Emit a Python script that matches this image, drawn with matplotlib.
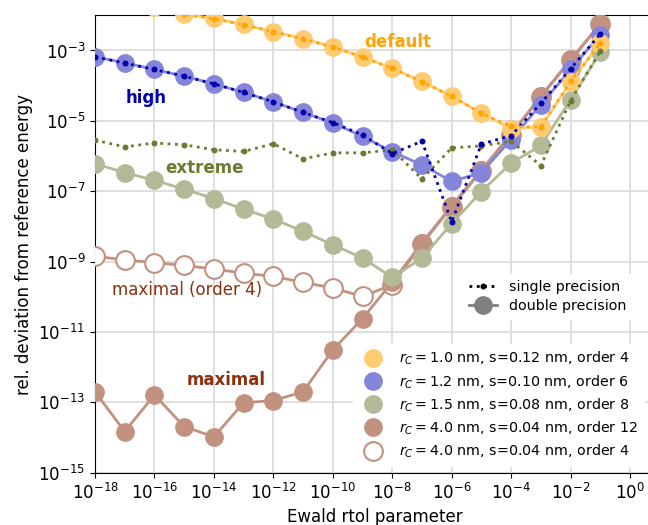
import numpy as np
import matplotlib
matplotlib.use("Agg")
import matplotlib.pyplot as plt
from matplotlib.lines import Line2D
from matplotlib.ticker import FixedLocator, NullLocator

# data (log10 of the values)
rtol_exp = [-18, -17, -16, -15, -14, -13, -12, -11, -10, -9, -8, -7, -6, -5, -4, -3, -2, -1]

default_dbl = [-1.35, -1.55, -1.75, -1.97, -2.09, -2.26, -2.47, -2.66, -2.90, -3.18,
               -3.51, -3.88, -4.30, -4.78, -5.22, -5.17, -3.90, -2.78]
default_sgl = [-1.35, -1.55, -1.75, -1.97, -2.10, -2.27, -2.47, -2.67, -2.90, -3.19,
               -3.51, -3.89, -4.30, -4.79, -5.16, -5.17, -3.88, -2.80]
high_dbl = [-3.18, -3.35, -3.54, -3.73, -3.95, -4.19, -4.46, -4.76, -5.06, -5.44,
            -5.88, -6.25, -6.72, -6.47, -5.53, -4.54, -3.54, -2.55]
high_sgl = [-3.18, -3.36, -3.54, -3.73, -3.95, -4.19, -4.46, -4.76, -5.05, -5.40,
            -5.93, -5.58, -7.87, -5.66, -5.42, -4.50, -3.52, -2.53]
extreme_dbl = [-6.22, -6.47, -6.69, -6.94, -7.21, -7.51, -7.79, -8.14, -8.52, -8.90,
               -9.45, -8.90, -7.92, -7.01, -6.20, -5.70, -4.40, -3.05]
extreme_sgl = [-5.55, -5.74, -5.63, -5.68, -5.82, -5.87, -5.65, -6.08, -5.91, -5.91,
               -5.82, -6.65, -5.77, -5.71, -5.58, -6.27, -4.43, -3.02]
maximal_dbl = [-12.70, -13.83, -12.79, -13.69, -13.98, -13.01, -12.95, -12.70, -11.51, -10.62,
               -9.58, -8.47, -7.41, -6.40, -5.37, -4.30, -3.26, -2.24]
maximal4_dbl = [-8.85, -8.95, -9.03, -9.11, -9.21, -9.33, -9.42, -9.59, -9.75, -9.99,
                -9.66, -8.50, -7.44, -6.42, -5.39, -4.32, -3.28, -2.26]

legend_labels = [r"$r_C = 1.0$ nm, s=0.12 nm, order 4",
                 r"$r_C = 1.2$ nm, s=0.10 nm, order 6",
                 r"$r_C = 1.5$ nm, s=0.08 nm, order 8",
                 r"$r_C = 4.0$ nm, s=0.04 nm, order 12",
                 r"$r_C = 4.0$ nm, s=0.04 nm, order 4"]

x = 10.0 ** np.array(rtol_exp)

# colours
c_def, c_def_l = "#ffa500", "#ffca70"
c_high, c_high_l = "#0000aa", "#8484da"
c_ext, c_ext_l = "#6b7b2f", "#b4ba98"
c_max, c_max_l = "#8b2f0f", "#c2917f"

fig = plt.figure(figsize=(6.48, 5.25), dpi=100)
ax = fig.add_axes([95 / 648, 52.3 / 525, (653.8 - 95) / 648, 457.4 / 525])

ms_d, ms_s = 13.5, 4.3
ax.plot(x, 10.0 ** np.array(maximal4_dbl), "-o", color=c_max_l, lw=2, ms=ms_d,
        mfc="white", mec=c_max_l, mew=1.5, zorder=3)
ax.plot(x, 10.0 ** np.array(maximal_dbl), "-o", color=c_max_l, lw=2, ms=ms_d, mew=0, zorder=3)
ax.plot(x, 10.0 ** np.array(extreme_dbl), "-o", color=c_ext_l, lw=2, ms=ms_d, mew=0, zorder=3)
ax.plot(x, 10.0 ** np.array(high_dbl), "-o", color=c_high_l, lw=2, ms=ms_d, mew=0, zorder=3)
ax.plot(x, 10.0 ** np.array(default_dbl), "-o", color=c_def_l, lw=2, ms=ms_d, mew=0, zorder=3)

ax.plot(x, 10.0 ** np.array(extreme_sgl), ":o", color=c_ext, lw=2, ms=ms_s, mew=0, zorder=4)
ax.plot(x, 10.0 ** np.array(high_sgl), ":o", color=c_high, lw=2, ms=ms_s, mew=0, zorder=4)
ax.plot(x, 10.0 ** np.array(default_sgl), ":o", color=c_def, lw=2, ms=ms_s, mew=0, zorder=4)

ax.set_xscale("log")
ax.set_yscale("log")
ax.set_xlim(1e-18, 10 ** 0.8)
ax.set_ylim(1e-15, 1e-2)
ax.xaxis.set_major_locator(FixedLocator(10.0 ** np.arange(-18, 1, 2)))
ax.yaxis.set_major_locator(FixedLocator(10.0 ** np.arange(-15, -2, 2)))
ax.xaxis.set_minor_locator(NullLocator())
ax.yaxis.set_minor_locator(NullLocator())
ax.tick_params(labelsize=12)
ax.grid(True, color="#dcdcdc", lw=1.3)
ax.set_axisbelow(True)
ax.set_xlabel("Ewald rtol parameter", fontsize=12)
ax.set_ylabel("rel. deviation from reference energy", fontsize=12)

ax.text(10 ** -7.8, 10 ** -2.75, "default", color=c_def, fontsize=12, fontweight="bold",
        ha="center", va="center")
ax.text(10 ** -16.28, 10 ** -4.34, "high", color=c_high, fontsize=12, fontweight="bold",
        ha="center", va="center")
ax.text(10 ** -14.3, 10 ** -6.33, "extreme", color=c_ext, fontsize=12, fontweight="bold",
        ha="center", va="center")
ax.text(10 ** -14.89, 10 ** -9.8, "maximal (order 4)", color=c_max, fontsize=12,
        ha="center", va="center")
ax.text(10 ** -13.59, 10 ** -12.36, "maximal", color=c_max, fontsize=12, fontweight="bold",
        ha="center", va="center")

prec_handles = [Line2D([], [], color="k", ls=":", lw=2, marker="o", ms=ms_s, mew=0),
                Line2D([], [], color="gray", ls="-", lw=2, marker="o", ms=ms_d, mew=0)]
leg1 = ax.legend(prec_handles, ["single precision", "double precision"], loc="center left",
                 bbox_to_anchor=(0.646, 0.3857), fontsize=10.3, labelspacing=0.35,
                 frameon=True, edgecolor="white", framealpha=1)
ax.add_artist(leg1)

set_handles = [Line2D([], [], ls="none", marker="o", ms=ms_d, color=c_def_l, mew=0),
               Line2D([], [], ls="none", marker="o", ms=ms_d, color=c_high_l, mew=0),
               Line2D([], [], ls="none", marker="o", ms=ms_d, color=c_ext_l, mew=0),
               Line2D([], [], ls="none", marker="o", ms=ms_d, color=c_max_l, mew=0),
               Line2D([], [], ls="none", marker="o", ms=ms_d, mfc="white", mec=c_max_l, mew=1.5)]
leg2 = ax.legend(set_handles, legend_labels, loc="center left", bbox_to_anchor=(0.4493, 0.148),
                 fontsize=10.3, labelspacing=0.4, frameon=True, edgecolor="white", framealpha=1)
leg1.set_zorder(10)
leg2.set_zorder(10)

fig.savefig("out.png", dpi=100)
